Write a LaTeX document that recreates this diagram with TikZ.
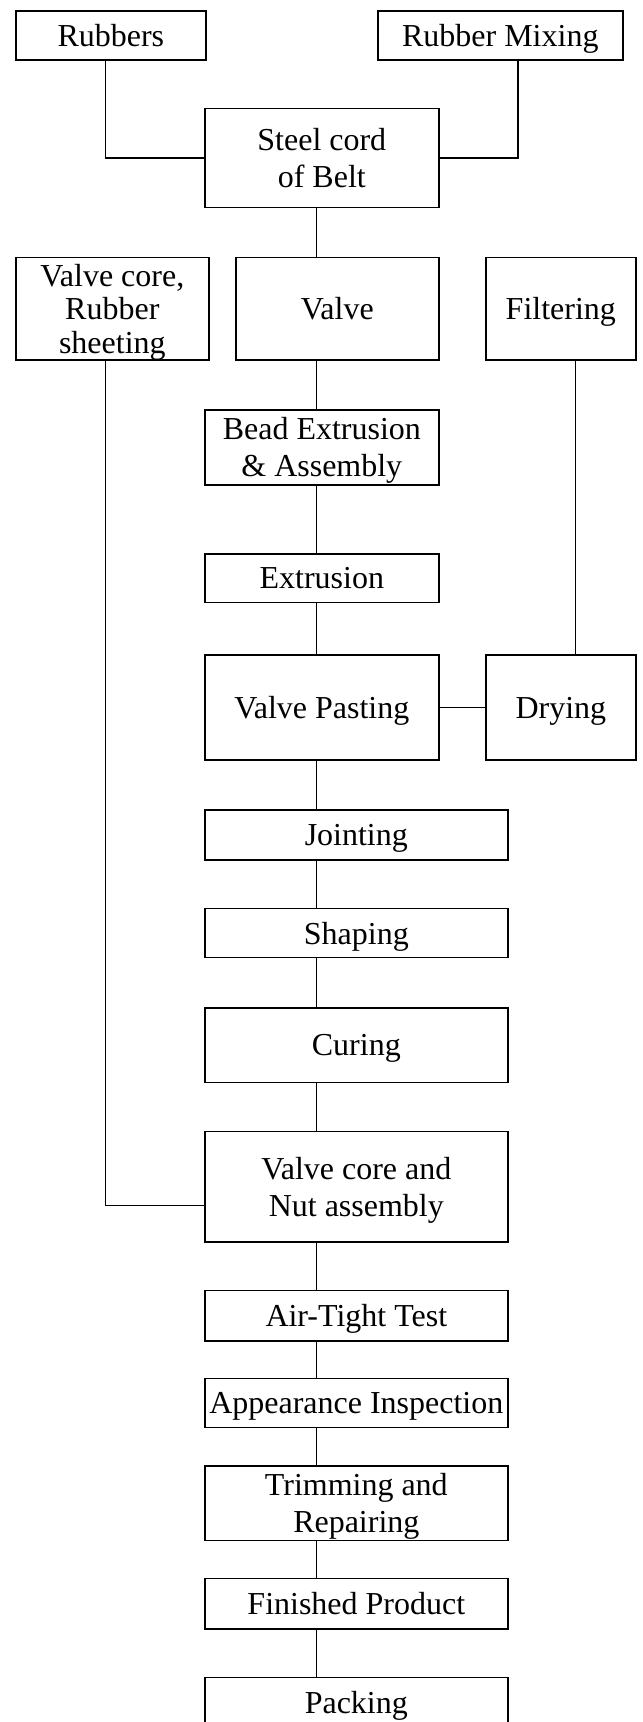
\documentclass[tikz,border=0pt]{standalone}
\usepackage{fontspec}
\setmainfont{Liberation Serif}
\usepackage{tikz}
\usetikzlibrary{positioning}
\newcommand{\stagefont}{\fontsize{27.3}{31.6}\selectfont}
\tikzset{
 stage/.style={draw,anchor=north west,fill=white,line width=1.4pt,inner sep=1pt,text depth=0pt,align=center,font=\stagefont},
 link/.style={line width=1.3pt}
}

\begin{document}
\begin{tikzpicture}
 \useasboundingbox (0,0) rectangle (19.29,-51.66);
 \node[stage,minimum height=1.47cm,minimum width=5.70cm,xshift=0.45cm,yshift=-0.30cm] (rub) {Rubbers};
 \node[stage,minimum height=1.47cm,minimum width=7.35cm,xshift=11.31cm,yshift=-0.30cm] (mix) {Rubber Mixing};
 \node[stage,minimum height=2.97cm,minimum width=7.02cm,xshift=6.12cm,yshift=-3.23cm] (steel) {Steel cord\\of Belt};
 \node[stage,minimum height=3.07cm,minimum width=5.79cm,xshift=0.45cm,yshift=-7.70cm,font=\fontsize{27.3}{28.6}\selectfont] (vcore) {Valve core,\\Rubber\\sheeting};
 \node[stage,minimum height=3.07cm,minimum width=6.09cm,xshift=7.05cm,yshift=-7.70cm] (valve) {Valve};
 \node[stage,minimum height=3.07cm,minimum width=4.50cm,xshift=14.55cm,yshift=-7.70cm] (filt) {Filtering};
 \node[stage,minimum height=2.25cm,minimum width=7.02cm,xshift=6.12cm,yshift=-12.27cm] (bead) {Bead Extrusion\\\& Assembly};
 \node[stage,minimum height=1.46cm,minimum width=7.02cm,xshift=6.12cm,yshift=-16.59cm] (extr) {Extrusion};
 \node[stage,minimum height=3.16cm,minimum width=7.02cm,xshift=6.12cm,yshift=-19.62cm] (paste) {Valve Pasting};
 \node[stage,minimum height=3.16cm,minimum width=4.50cm,xshift=14.55cm,yshift=-19.62cm] (dry) {Drying};
 \node[stage,minimum height=1.50cm,minimum width=9.09cm,xshift=6.12cm,yshift=-24.27cm] (joint) {Jointing};
 \node[stage,minimum height=1.47cm,minimum width=9.09cm,xshift=6.12cm,yshift=-27.23cm] (shape) {Shaping};
 \node[stage,minimum height=2.24cm,minimum width=9.09cm,xshift=6.12cm,yshift=-30.21cm] (cure) {Curing};
 \node[stage,minimum height=3.31cm,minimum width=9.09cm,xshift=6.12cm,yshift=-33.92cm] (nut) {Valve core and\\Nut assembly};
 \node[stage,minimum height=1.51cm,minimum width=9.09cm,xshift=6.12cm,yshift=-38.69cm] (air) {Air-Tight Test};
 \node[stage,minimum height=1.47cm,minimum width=9.09cm,xshift=6.12cm,yshift=-41.33cm] (look) {Appearance Inspection};
 \node[stage,minimum height=2.24cm,minimum width=9.09cm,xshift=6.12cm,yshift=-43.95cm] (trim) {Trimming and\\Repairing};
 \node[stage,minimum height=1.51cm,minimum width=9.09cm,xshift=6.12cm,yshift=-47.33cm] (fin) {Finished Product};
 \node[stage,minimum height=1.47cm,minimum width=9.09cm,xshift=6.12cm,yshift=-50.30cm] (pack) {Packing};

 % line positions
 \coordinate (xl) at (3.165,0);
 \coordinate (xm) at (9.50,0);
 \coordinate (xr) at (15.54,0);
 \coordinate (xf) at (17.27,0);
 \coordinate (jn) at (0,-36.17);

 \draw[link] (rub.south -| xl) |- (steel.west);
 \draw[link] (mix.south -| xr) |- (steel.east);
 \draw[link] (steel.south -| xm) -- (valve.north -| xm);
 \draw[link] (valve.south -| xm) -- (bead.north -| xm);
 \draw[link] (bead.south -| xm) -- (extr.north -| xm);
 \draw[link] (extr.south -| xm) -- (paste.north -| xm);
 \draw[link] (paste.south -| xm) -- (joint.north -| xm);
 \draw[link] (joint.south -| xm) -- (shape.north -| xm);
 \draw[link] (shape.south -| xm) -- (cure.north -| xm);
 \draw[link] (cure.south -| xm) -- (nut.north -| xm);
 \draw[link] (nut.south -| xm) -- (air.north -| xm);
 \draw[link] (air.south -| xm) -- (look.north -| xm);
 \draw[link] (look.south -| xm) -- (trim.north -| xm);
 \draw[link] (trim.south -| xm) -- (fin.north -| xm);
 \draw[link] (fin.south -| xm) -- (pack.north -| xm);
 \draw[link] (vcore.south -| xl) |- (nut.west |- jn);
 \draw[link] (filt.south -| xf) -- (dry.north -| xf);
 \draw[link] (paste.east) -- (dry.west);
\end{tikzpicture}
\end{document}
